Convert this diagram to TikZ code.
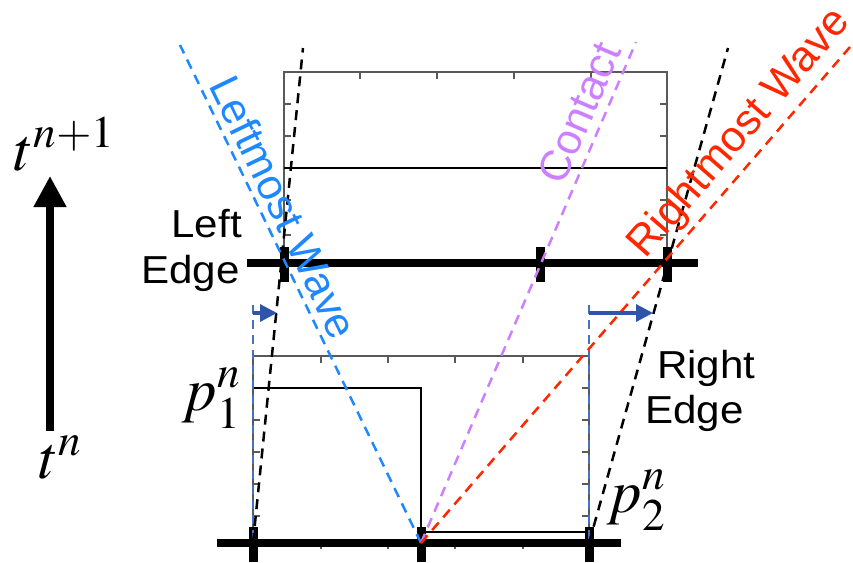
\documentclass[tikz,border=0pt]{standalone}
\usepackage{mathptmx}
\usepackage[no-math]{fontspec}
\newfontfamily\labfont[FakeStretch=1.08]{Liberation Sans}
\newfontfamily\wavefont{Liberation Sans}
\usetikzlibrary{arrows.meta}
\definecolor{wblue}{RGB}{30,136,255}
\definecolor{wpurple}{RGB}{204,128,255}
\definecolor{wred}{RGB}{255,38,0}
\definecolor{eblue}{RGB}{47,85,170}
\definecolor{vblue}{RGB}{68,114,196}
\begin{document}
\begin{tikzpicture}[x=1pt,y=-1pt,
  gridline/.style={draw=black!65, line width=1.4pt},
  tickmark/.style={draw=black!65, line width=1.3pt},
  dataline/.style={draw=black, line width=2pt},
  thickaxis/.style={draw=black, line width=8pt},
  thicktick/.style={draw=black, line width=9pt},
  wavedash/.style={dash pattern=on 10pt off 7pt, line width=2.5pt},
  vdash/.style={draw=vblue, dash pattern=on 9pt off 6pt, line width=2.6pt},
  edgearrow/.style={draw=eblue, line width=3.2pt, -{Triangle[length=17pt,width=17pt]}},
  timearrow/.style={draw=black, line width=7.5pt, -{Triangle[length=31pt,width=31pt]}},
  lab/.style={font=\labfont\fontsize{39}{42}\selectfont, inner sep=0pt},
  wavelab/.style={font=\wavefont\fontsize{43}{46}\selectfont, inner sep=0pt},
  mathlab/.style={font=\fontsize{61}{61}\selectfont, inner sep=0pt}]
\useasboundingbox (0,0) rectangle (853,562);

% ---- top (t^{n+1}) box ----
\draw[gridline] (284,263) -- (284,72) -- (667,72) -- (667,263);
\foreach \x in {360,437,514,591} \draw[tickmark] (\x,72) -- (\x,79);
\foreach \y in {104,136,200,235} {
  \draw[tickmark] (284,\y) -- (291,\y);
  \draw[tickmark] (667,\y) -- (660,\y);
}
\draw[dataline] (284,168) -- (667,168);

% ---- bottom (t^n) box ----
\draw[gridline] (253,543) -- (253,356) -- (589,356) -- (589,543);
\foreach \x in {321,388,455,523} {
  \draw[tickmark] (\x,356) -- (\x,363);
  \draw[tickmark] (\x,543) -- (\x,549);
}
\foreach \y in {420,452,484,516} \draw[tickmark] (253,\y) -- (260,\y);
\foreach \y in {388,420,452,484,516} \draw[tickmark] (589,\y) -- (582,\y);
\draw[dataline] (253,388) -- (421,388) -- (421,532) -- (589,532);

% ---- thick axes ----
\draw[thickaxis] (247,263) -- (698,263);
\foreach \x in {284,540,667} \draw[thicktick] (\x,247) -- (\x,282);
\draw[thickaxis] (217,543) -- (621,543);
\foreach \x in {253,421,589} \draw[thicktick] (\x,527) -- (\x,562);

% ---- wave coordinates ----
\coordinate (ll) at (253,543);
\coordinate (lr) at (589,543);
\coordinate (mid) at (421,543);
\coordinate (letop) at (303,48);
\coordinate (retop) at (728,48);
\coordinate (lwtop) at (180,45);
\coordinate (cttop) at (636,42);
\coordinate (rwtop) at (850,47);
\coordinate (lvtop) at (253,305);
\coordinate (rvtop) at (589,305);
\coordinate (la0) at (253,313);
\coordinate (la1) at (277,313);
\coordinate (ra0) at (589,313);
\coordinate (ra1) at (653,313);

% edges of the cell
\draw[vdash] (lvtop) -- (ll);
\draw[vdash] (rvtop) -- (lr);
\draw[wavedash, black] (ll) -- (letop);
\draw[wavedash, black] (lr) -- (retop);
% waves
\draw[wavedash, wblue] (mid) -- (lwtop);
\draw[wavedash, wpurple] (mid) -- (cttop);
\draw[wavedash, wred] (mid) -- (rwtop);
% edge motion arrows
\draw[edgearrow] (la0) -- (la1);
\draw[edgearrow] (ra0) -- (ra1);

% ---- labels ----
\node[wavelab, text=wblue, rotate=-64.2] (lwlab) at (284,207) {Leftmost Wave};
\node[wavelab, text=wpurple, rotate=66.8] (ctlab) at (579,113) {Contact};
\node[wavelab, text=wred, rotate=49] (rwlab) at (740,134) {Rightmost Wave};

\node[lab, anchor=base east] (left1) at (242,237) {Left};
\node[lab, anchor=base east] (left2) at (240,283) {Edge};
\node[lab, anchor=base west] (right1) at (657,378) {Right};
\node[lab, anchor=base west] (right2) at (645,423) {Edge};

\node[mathlab, anchor=base west] (p1) at (182,410) {$p_1^n$};
\node[mathlab, anchor=base west] (p2) at (607,512) {$p_2^n$};

% ---- time arrow ----
\node[mathlab, anchor=base west] (tn1) at (14,170) {$t^{n+1}$};
\node[mathlab, anchor=base west] (tn) at (39,478) {$t^n$};
\coordinate (tbot) at (50,431);
\coordinate (ttop) at (50,176);
\draw[timearrow] (tbot) -- (ttop);
\end{tikzpicture}
\end{document}
